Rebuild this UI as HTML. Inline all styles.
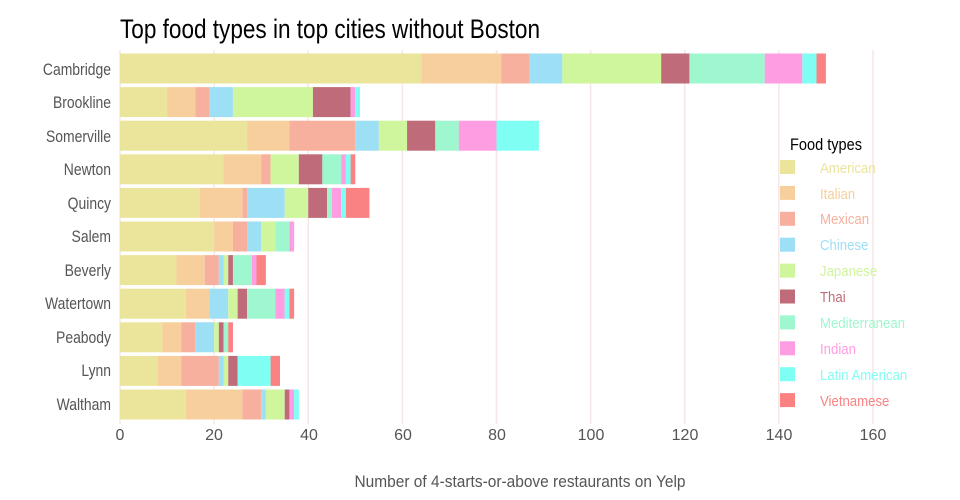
<!DOCTYPE html>
<html><head><meta charset="utf-8"><style>
body{margin:0;background:#fff;}
svg{display:block;font-family:"Liberation Sans Narrow","Liberation Sans",sans-serif;}
</style></head><body>
<svg id="s" width="960" height="500" viewBox="0 0 960 500">
<g id="grid"></g>
<g id="bars"></g>
<text x="120" y="38" font-size="27" fill="#000" textLength="420" lengthAdjust="spacingAndGlyphs">Top food types in top cities without Boston</text>
<g font-size="17" fill="#555" text-anchor="end" transform="scale(0.82,1)">
<text x="135.4" y="75">Cambridge</text>
<text x="135.4" y="108">Brookline</text>
<text x="135.4" y="142">Somerville</text>
<text x="135.4" y="175">Newton</text>
<text x="135.4" y="209">Quincy</text>
<text x="135.4" y="242">Salem</text>
<text x="135.4" y="276">Beverly</text>
<text x="135.4" y="309">Watertown</text>
<text x="135.4" y="343">Peabody</text>
<text x="135.4" y="376">Lynn</text>
<text x="135.4" y="410">Waltham</text>
</g>
<g font-size="16" fill="#555" text-anchor="middle">
<text x="120" y="440">0</text><text x="214" y="440">20</text><text x="309" y="440">40</text><text x="403" y="440">60</text><text x="497" y="440">80</text><text x="591" y="440">100</text><text x="685" y="440">120</text><text x="779" y="440">140</text><text x="873" y="440">160</text>
</g>
<text x="520" y="487" font-size="17" fill="#555" text-anchor="middle" textLength="331" lengthAdjust="spacingAndGlyphs">Number of 4-starts-or-above restaurants on Yelp</text>
<text x="790" y="150" font-size="17" fill="#000" textLength="72" lengthAdjust="spacingAndGlyphs">Food types</text>
<g id="leg" font-size="15" transform="translate(820,0) scale(0.88,1)">
<text x="0" y="173" fill="#ebe59b">American</text>
<text x="0" y="199" fill="#f7cf9c">Italian</text>
<text x="0" y="224" fill="#f7b09e">Mexican</text>
<text x="0" y="250" fill="#9ddff5">Chinese</text>
<text x="0" y="276" fill="#cff59d">Japanese</text>
<text x="0" y="302" fill="#bf6b79">Thai</text>
<text x="0" y="328" fill="#9ef7cf">Mediterranean</text>
<text x="0" y="354" fill="#ff9de3">Indian</text>
<text x="0" y="380" fill="#7ffff3">Latin American</text>
<text x="0" y="406" fill="#fb8282">Vietnamese</text>
</g>
<g id="sw"></g>
</svg>
<script>
var C=["#ebe59b","#f7cf9c","#f7b09e","#9ddff5","#cff59d","#bf6b79","#9ef7cf","#ff9de3","#7ffff3","#fb8282"];
var D=[[64,17,6,7,21,6,16,8,3,2],[10,6,3,5,17,8,0,1,1,0],[27,9,14,5,6,6,5,8,9,0],[22,8,2,0,6,5,4,1,1,1],[17,9,1,8,5,4,1,2,1,5],[20,4,3,3,3,0,3,1,0,0],[12,6,3,1,1,1,4,1,0,2],[14,5,0,4,2,2,6,2,1,1],[9,4,3,4,1,1,1,0,0,1],[8,5,8,1,1,2,0,0,7,2],[14,12,4,1,4,1,0,1,1,0]];
var NS="http://www.w3.org/2000/svg",s=4.706;
function r(p,a){var e=document.createElementNS(NS,"rect");for(var k in a)e.setAttribute(k,a[k]);p.appendChild(e);}
var g=document.getElementById("grid");
for(var v=0;v<=160;v+=20)r(g,{x:120+v*s-0.75,y:50,width:1.5,height:374,fill:"#f7e6e6"});
var b=document.getElementById("bars");
D.forEach(function(row,i){var x=120,y=53.5+i*33.6;row.forEach(function(n,j){if(n>0){r(b,{x:x,y:y,width:n*s,height:30,fill:C[j]});x+=n*s;}});});
var l=document.getElementById("sw");
C.forEach(function(c,j){r(l,{x:780,y:160+j*25.9,width:15,height:14,fill:c});});
</script>
</body></html>
